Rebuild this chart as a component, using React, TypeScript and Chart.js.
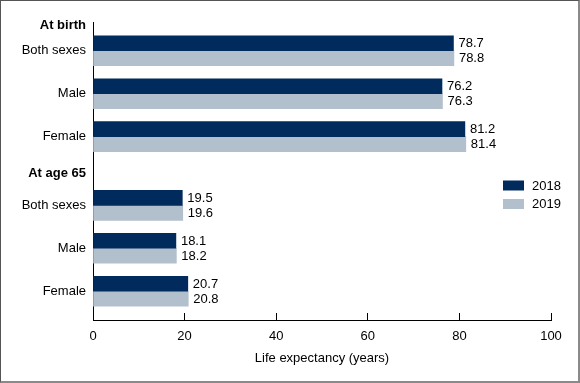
import React, { useEffect, useRef } from "react";
import { Chart, registerables } from "chart.js";

Chart.register(...registerables);

const groupLabels = ["At birth", "At age 65"];
const rowLabels = ["Both sexes", "Male", "Female"];
const seriesLabels = ["2018", "2019"];
const values2018 = [78.7, 76.2, 81.2, 19.5, 18.1, 20.7];
const values2019 = [78.8, 76.3, 81.4, 19.6, 18.2, 20.8];
const xTicks = [0, 20, 40, 60, 80, 100];

const COLORS = ["#002b5c", "#b2bfcd"];
const FONT = "'Liberation Sans', Arial, Helvetica, sans-serif";

// layout of rows on the index axis (slot units)
const GROUP_GAP = 0.6;
const FIRST_HEADER_LEAD = 0.6;

function buildLayout() {
  const rowPos: number[] = [];
  const ticks: { pos: number; label: string; header: boolean }[] = [];
  let p = 0;
  let prevLast = 0;
  groupLabels.forEach((g, gi) => {
    if (gi > 0) p += GROUP_GAP;
    const headerPos = gi === 0 ? p - FIRST_HEADER_LEAD : (prevLast + p) / 2 + 0.05;
    ticks.push({ pos: headerPos, label: g, header: true });
    rowLabels.forEach((r) => {
      rowPos.push(p);
      ticks.push({ pos: p, label: r, header: false });
      p += 1;
    });
    prevLast = p - 1;
  });
  return { rowPos, ticks, last: p - 1 };
}

export default function App() {
  const ref = useRef<HTMLCanvasElement>(null);
  useEffect(() => {
    const { rowPos, ticks, last } = buildLayout();
    const series = [values2018, values2019];

    const labelPlugin = {
      id: "valueLabels",
      afterDatasetsDraw(chart: any) {
        const ctx = chart.ctx;
        ctx.save();
        ctx.font = `13px ${FONT}`;
        ctx.fillStyle = "#000";
        ctx.textAlign = "left";
        ctx.textBaseline = "middle";
        chart.data.datasets.forEach((ds: any, di: number) => {
          const meta = chart.getDatasetMeta(di);
          meta.data.forEach((bar: any, i: number) => {
            ctx.fillText(series[di][i].toFixed(1), bar.x + 5, bar.y + 0.5);
          });
        });
        ctx.restore();
      },
    };

    const legendPlugin = {
      id: "customLegend",
      afterDraw(chart: any) {
        const ctx = chart.ctx;
        const area = chart.chartArea;
        ctx.save();
        ctx.font = `13px ${FONT}`;
        ctx.textAlign = "left";
        ctx.textBaseline = "middle";
        chart.data.datasets.forEach((ds: any, di: number) => {
          const cy = area.top + 163.5 + di * 18.5;
          const bx = area.right - 48;
          ctx.fillStyle = ds.backgroundColor;
          ctx.fillRect(bx, cy - 5, 21, 10);
          ctx.fillStyle = "#000";
          ctx.fillText(ds.label, bx + 29, cy + 0.5);
        });
        ctx.restore();
      },
    };

    const chart = new Chart(ref.current!, {
      type: "bar",
      data: {
        datasets: series.map((vals, si) => ({
          label: seriesLabels[si],
          data: vals.map((v, i) => ({ x: v, y: rowPos[i] })),
          backgroundColor: COLORS[si],
          borderWidth: 0,
          barThickness: 15,
        })),
      },
      options: {
        indexAxis: "y",
        animation: false,
        responsive: false,
        layout: { padding: { top: 21, right: 27, left: 0, bottom: 0 } },
        plugins: { legend: { display: false }, tooltip: { enabled: false } },
        scales: {
          y: {
            type: "linear",
            reverse: true,
            offset: false,
            min: -0.67,
            max: last + 0.67,
            afterBuildTicks: (scale: any) => {
              scale.ticks = ticks.map((t) => ({ value: t.pos }));
            },
            afterFit: (scale: any) => {
              scale.width = 92;
            },
            grid: { display: false, drawTicks: false, offset: false },
            border: { display: true, color: "#000", width: 1 },
            ticks: {
              autoSkip: false,
              padding: 7,
              color: "#000",
              callback: (_v: any, i: number) => ticks[i]?.label ?? "",
              font: (c: any) => ({
                family: FONT,
                size: 13,
                weight: ticks[c.index]?.header ? "bold" : "normal",
              }),
            },
          },
          x: {
            type: "linear",
            min: 0,
            max: 100,
            afterBuildTicks: (scale: any) => {
              scale.ticks = xTicks.map((v) => ({ value: v }));
            },
            afterFit: (scale: any) => {
              scale.height = 61;
            },
            grid: {
              display: true,
              drawOnChartArea: false,
              drawTicks: true,
              tickLength: -7,
              color: "#000",
              lineWidth: 1,
            },
            border: { display: true, color: "#000", width: 1 },
            ticks: {
              padding: 16,
              color: "#000",
              font: { family: FONT, size: 13 },
            },
            title: {
              display: true,
              text: "Life expectancy (years)",
              color: "#000",
              font: { family: FONT, size: 13 },
              padding: { top: 0, bottom: 15 },
            },
          },
        },
      },
      plugins: [labelPlugin, legendPlugin],
    } as any);
    return () => chart.destroy();
  }, []);

  return (
    <div
      style={{
        position: "fixed",
        left: 0,
        top: 0,
        width: 580,
        height: 383,
        boxSizing: "border-box",
        borderLeft: "1px solid #555",
        borderTop: "1px solid #555",
        borderRight: "2px solid #8a8a8a",
        borderBottom: "2px solid #8a8a8a",
        background: "#fff",
      }}
    >
      <canvas ref={ref} width={577} height={380} style={{ display: "block" }} />
    </div>
  );
}
